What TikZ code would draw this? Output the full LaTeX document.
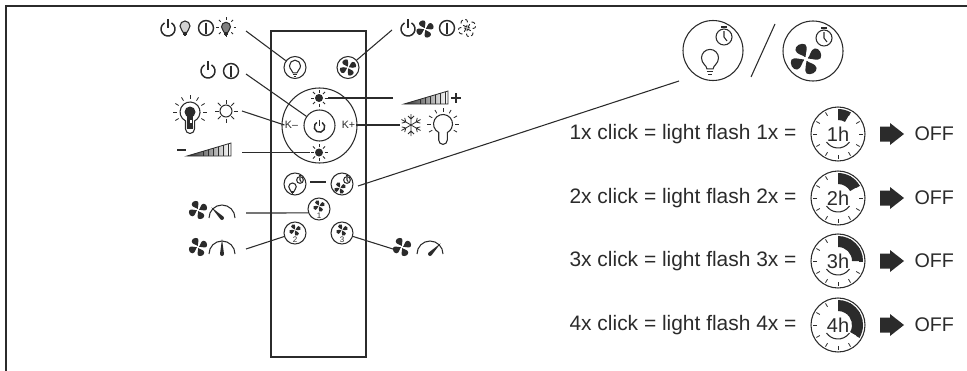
\documentclass[tikz,border=0pt]{standalone}
\usepackage{fontspec}
\setmainfont{Liberation Sans}
\definecolor{ink}{HTML}{2B2B2B}
\newcommand{\fanblade}{(0,-1) .. controls (-0.5,-3) and (-4.8,-4.5) .. (-4.3,-7.5) .. controls (-3.8,-10.2) and (1,-10.8) .. (2.7,-8.7) .. controls (3.8,-6.5) and (1,-3.5) .. (0,-1) -- cycle}

\begin{document}
\begin{tikzpicture}[x=0.75pt,y=-0.75pt,line width=0.8pt,draw=ink,fill=ink,text=ink]
    \tikzset{leader/.style={line width=0.8pt},
      button/.style={circle,draw,fill=none,inner sep=0pt,minimum size=16.5pt},
      sunspot/.style={circle,inner sep=0pt,minimum size=12.5pt},
      rowlabel/.style={anchor=east,inner sep=0pt,font=\fontsize{15.7}{18}\selectfont},
      dialface/.style={circle,draw,fill=none,inner sep=0pt,minimum size=40.5pt,font=\fontsize{15}{17}\selectfont},
      offlabel/.style={anchor=west,inner sep=0pt,font=\fontsize{14.8}{17}\selectfont},
      pics/offarrow/.style={code={
        \fill (-12,-7.5) -- (-2,-7.5) -- (-2,-11) -- (12,0) -- (-2,11) -- (-2,7.5) -- (-12,7.5) -- cycle;
      }},
      pics/fan/.style={code={
        \foreach \a in {20,110,200,290} \path[rotate=\a,#1] \fanblade;
      }},
      pics/fan/.default={fill=ink},
      pics/bulb/.style={code={
        \filldraw[fill=#1] (-1.8,3.5) .. controls (-1.8,1.5) and (-5,0.5) .. (-5,-3) arc (180:360:5)
          .. controls (5,0.5) and (1.8,1.5) .. (1.8,3.5) -- cycle;
        \draw (-1.8,5) -- (1.8,5) (-1.2,6.5) -- (1.2,6.5);
      }},
      pics/bulb/.default=white,
      pics/rays/.style 2 args={code={
        \foreach \a in {0,45,...,315} \draw[line width=0.6pt] (\a:#1) -- (\a:#2);
      }},
      pics/powersign/.style={code={
        \draw[line width=1.1pt] (-60:7) arc (-60:240:7);
        \draw[line width=1.1pt] (0,-10) -- (0,-1);
      }},
      pics/onoff/.style={code={
        \draw[line width=1.1pt] (0,0) circle (7.5);
        \draw[line width=1.3pt] (0,-5.5) -- (0,5.5);
      }},
      pics/keybulb/.style={code={
        \draw (-4.5,17) -- (-4.5,8.9) arc (117:423:10) -- (4.5,17) arc (0:180:4.5);
        \foreach \a in {-210,-180,...,30} \draw[line width=0.6pt] (\a:13) -- (\a:17);
      }},
      pics/ramp/.style={code={
        \shade[left color=ink,right color=white] (0,0) -- (44,0) -- (44,-13) -- cycle;
        \foreach \x in {16,21,...,41} \draw[line width=0.4pt] (\x,0) -- (\x,-\x*13/44);
        \draw[line width=0.6pt] (0,0) -- (44,0) -- (44,-13) -- cycle;
      }},
      pics/gauge/.style={code={
        \draw (-13,0) arc (-180:0:13);
        \fill[rotate=#1] (-2,0) -- (0,-15) -- (2,0) arc (0:180:2) -- cycle;
      }},
      pics/snowflake/.style={code={
        \foreach \a in {0,60,...,300}
          \draw[rotate=\a,line width=0.6pt] (0,0) -- (0,-11) (-3,-9) -- (0,-6) -- (3,-9);
      }},
      pics/timer/.style={code={
        \draw (0,0) circle (8);
        \draw (-3,-10) -- (3,-10);
        \draw (0,-6) -- (0,0) -- (3,4);
      }},
      pics/dialmarks/.style={code={
        \fill (-90:14) -- (-90:25) arc (-90:-90+30*#1:25) -- (-90+30*#1:14) arc (-90+30*#1:-90:14) -- cycle;
        \foreach \a in {0,30,...,330} \draw[line width=0.6pt] (\a:21) -- (\a:25);
        \draw (35:14) arc (35:145:14);
      }}
    }

    % outer frame
    \coordinate (frameTR) at (967,6);
    \coordinate (frameTL) at (6,6);
    \coordinate (frameBL) at (6,371);
    \useasboundingbox (0,0) rectangle (967,371);
    \draw[line width=1.5pt] (frameTR) -- (frameTL) -- (frameBL);

    % remote
    \node[draw,fill=none,inner sep=0pt,minimum width=71.25pt,minimum height=244.5pt] (remote) at (318.5,194) {};
    \node[button] (btnLight) at (295,67.5) {};
    \node[button] (btnFan) at (348,67.5) {};
    \node[circle,draw,fill=none,inner sep=0pt,minimum size=56.25pt] (wheel) at (319.5,125.5) {};
    \node[circle,draw,fill=none,inner sep=0pt,minimum size=23.25pt] (btnPower) at (319.5,125.5) {};
    \node[sunspot] (sunTop) at (319,98) {};
    \node[sunspot] (sunLow) at (319,152.5) {};
    \node[inner sep=0pt,font=\fontsize{8}{8}\selectfont] (kMinus) at (291.5,125) {K--};
    \node[inner sep=0pt,font=\fontsize{8}{8}\selectfont] (kPlus) at (348.5,125) {K+};
    \node[button] (btnTimerLight) at (295,184) {};
    \node[button] (btnTimerFan) at (342,184) {};
    \node[button] (btnOne) at (319,209) {};
    \node[button] (btnTwo) at (295,233) {};
    \node[button] (btnThree) at (342,233) {};
    \node[inner sep=0pt,font=\fontsize{6}{6}\selectfont] (numOne) at (319,216) {1};
    \node[inner sep=0pt,font=\fontsize{6}{6}\selectfont] (numTwo) at (295,240) {2};
    \node[inner sep=0pt,font=\fontsize{6}{6}\selectfont] (numThree) at (342,240) {3};

    \pic[scale=1.1] at (295,69) {bulb};
    \pic[scale=0.85] at (348,67.5) {fan};
    \pic[scale=0.75] at (319.5,127) {powersign};
    \fill (sunTop) circle (4);
    \pic at (sunTop) {rays={5.5}{8.5}};
    \fill (sunLow) circle (4);
    \pic at (sunLow) {rays={5.5}{8.5}};
    \pic[scale=0.75] at (292.5,189) {bulb};
    \pic[scale=0.42] at (300,180) {timer};
    \pic[scale=0.6] at (340,188) {fan};
    \pic[scale=0.42] at (347,180) {timer};
    \pic[scale=0.6] at (319,206) {fan};
    \pic[scale=0.6] at (295,230) {fan};
    \pic[scale=0.6] at (342,230) {fan};

    % icons left
    \pic at (168,29) {powersign};
    \pic at (185,29) {bulb=gray!35};
    \pic at (206,28) {onoff};
    \pic[scale=0.9] at (226,29.5) {bulb=gray};
    \pic at (226,27) {rays={7.5}{10}};
    \pic at (208,71) {powersign};
    \pic at (231,71) {onoff};
    \pic at (190,112) {keybulb};
    \fill (190,112) circle (5.5);
    \fill (187,112) rectangle (193,129);
    \fill[white] (189.5,120) rectangle (192,123);
    \draw (226,111) circle (6);
    \pic at (226,111) {rays={7.5}{11.5}};
    \coordinate (minusA) at (177,150);
    \coordinate (minusB) at (186,150);
    \draw[line width=1pt] (minusA) -- (minusB);
    \pic at (187,156) {ramp};
    \pic[scale=0.95] at (198,210) {fan};
    \pic at (222,218) {gauge=45};
    \pic[scale=0.95] at (198,247) {fan};
    \pic at (222,254) {gauge=0};

    % icons right
    \pic at (408,29) {powersign};
    \pic[scale=0.9] at (425,29) {fan};
    \pic at (447,28) {onoff};
    \pic[scale=0.9] at (467,28) {fan={draw,densely dashed,line width=0.7pt}};
    \pic at (404,104) {ramp};
    \coordinate (plusL) at (451,98);
    \coordinate (plusR) at (461,98);
    \coordinate (plusT) at (456,93);
    \coordinate (plusB) at (456,103);
    \draw[line width=0.9pt] (plusL) -- (plusR) (plusT) -- (plusB);
    \pic at (411,125) {snowflake};
    \pic[scale=0.95] at (443,124) {keybulb};
    \pic[scale=0.95] at (402,247) {fan};
    \pic at (430,254) {gauge=-45};

    % leaders
    \coordinate (leadLight) at (246,31);
    \coordinate (leadPower) at (246,74);
    \coordinate (leadKeyA) at (242,111);
    \coordinate (leadSunLow) at (242,152.5);
    \coordinate (leadOne) at (246,213);
    \coordinate (leadTwo) at (246,249);
    \coordinate (leadFan) at (392,30);
    \coordinate (leadSunTop) at (393,98);
    \coordinate (leadKeyB) at (400,125);
    \coordinate (leadThree) at (393,249);
    \coordinate (leadTimerA) at (358,186);
    \coordinate (leadTimerB) at (679,81);
    \coordinate (dashA) at (310,182);
    \coordinate (dashB) at (326,182);
    \draw[leader] (leadLight) -- (btnLight);
    \draw[leader] (leadPower) -- (btnPower);
    \draw[leader] (leadKeyA) -- (kMinus.west);
    \draw[leader] (leadSunLow) -- (sunLow);
    \draw[leader] (leadOne) -- (btnOne.200);
    \draw[leader] (leadTwo) -- (btnTwo);
    \draw[leader] (leadFan) -- (btnFan);
    \draw[leader] (leadSunTop) -- (sunTop);
    \draw[leader] (leadKeyB) -- (kPlus);
    \draw[leader] (leadThree) -- (btnThree);
    \draw[leader] (leadTimerA) -- (leadTimerB);
    \draw[leader] (dashA) -- (dashB);

    % timer buttons
    \node[circle,draw,fill=none,inner sep=0pt,minimum size=45pt] (bigLight) at (713,50.5) {};
    \node[circle,draw,fill=none,inner sep=0pt,minimum size=45pt] (bigFan) at (813,51) {};
    \pic[scale=1.7] at (710,63) {bulb};
    \pic at (724,37) {timer};
    \pic[scale=1.6] at (806,59) {fan};
    \fill[white] (806,59) circle (2);
    \pic at (824,38) {timer};
    \coordinate (slashA) at (775,24);
    \coordinate (slashB) at (751,77);
    \draw[leader] (slashA) -- (slashB);

    % rows
    \node[rowlabel] (labelA) at (797,134) {1x click = light flash 1x =};
    \node[dialface] (dialA) at (838,134) {1h};
    \pic at (dialA) {dialmarks=1};
    \pic at (892,134) {offarrow};
    \node[offlabel] (offA) at (914,134) {OFF};

    \node[rowlabel] (labelB) at (797,198) {2x click = light flash 2x =};
    \node[dialface] (dialB) at (838,198) {2h};
    \pic at (dialB) {dialmarks=2};
    \pic at (892,198) {offarrow};
    \node[offlabel] (offB) at (914,198) {OFF};

    \node[rowlabel] (labelC) at (797,261) {3x click = light flash 3x =};
    \node[dialface] (dialC) at (838,261) {3h};
    \pic at (dialC) {dialmarks=3};
    \pic at (892,261) {offarrow};
    \node[offlabel] (offC) at (914,261) {OFF};

    \node[rowlabel] (labelD) at (797,325) {4x click = light flash 4x =};
    \node[dialface] (dialD) at (838,325) {4h};
    \pic at (dialD) {dialmarks=4};
    \pic at (892,325) {offarrow};
    \node[offlabel] (offD) at (914,325) {OFF};
\end{tikzpicture}
\end{document}
